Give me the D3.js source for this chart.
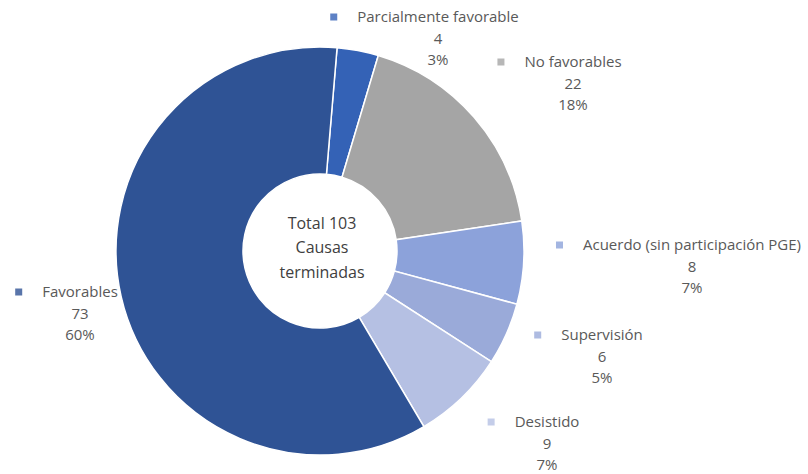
<!DOCTYPE html>
<html lang="es">
<head>
  <meta charset="utf-8">
  <title>causas terminadas</title>
  <style>
  * { margin:0; padding:0; }
  body { background:#fff; }
  svg text { font-family: "Open Sans", Lato, sans-serif; fill:#595959; }
  </style>
  <script src="https://d3js.org/d3.v7.min.js"></script>
</head>
<body>
  <div id="chart"></div>
  <script type="text/javascript">
  // data
  var categories = ["Parcialmente favorable","No favorables","Acuerdo (sin participación PGE)","Supervisión","Desistido","Favorables"];
  var values = [4,22,8,6,9,73];
  var percents = ["3%","18%","7%","5%","7%","60%"];
  var centerLines = ["Total 103","Causas","terminadas"];

  var colors = ["#3462b6","#a5a5a5","#8ca2da","#9aaad9","#b5c0e3","#2f5395"];
  // label placement (centre of name line, y of name line)
  var labelX = [438,573,692,602,547,80];
  var labelY = [17,62,245,335,422,292];

  var w = 808, h = 474;
  var svg = d3.select("#chart").append("svg")
    .attr("width", w).attr("height", h);

  var cx = 320, cy = 251, R = 204, r0 = 77;
  var start = 4.8*Math.PI/180;

  var pie = d3.pie().sort(null)
    .startAngle(start).endAngle(start + 2*Math.PI);
  var arc = d3.arc().innerRadius(r0).outerRadius(R);

  var g = svg.append("g").attr("transform","translate("+cx+","+cy+")");
  g.selectAll("path.slice")
    .data(pie(values))
    .enter().append("path")
    .attr("class","slice")
    .attr("d", arc)
    .attr("fill", function(d,i){ return colors[i]; })
    .attr("stroke","#fff")
    .attr("stroke-width",1.5);

  g.selectAll("text.center")
    .data(centerLines)
    .enter().append("text")
    .attr("class","center")
    .attr("text-anchor","middle")
    .attr("x",2)
    .attr("y",function(d,i){ return -28 + i*24.5; })
    .attr("dy","0.35em")
    .style("font-size","16px")
    .style("fill","#404040")
    .text(function(d){ return d; });

  var lh = 21.5;
  var labels = svg.selectAll("g.lab")
    .data(categories)
    .enter().append("g")
    .attr("class","lab")
    .attr("transform",function(d,i){ return "translate("+labelX[i]+","+labelY[i]+")"; });

  labels.each(function(d,i){
    var lg = d3.select(this);
    var t = lg.append("text")
      .attr("text-anchor","middle")
      .attr("dy","0.35em")
      .style("font-size","15px")
      .text(d);
    var tw = t.node().getComputedTextLength();
    lg.append("rect")
      .attr("x", -tw/2 - 27).attr("y",-3.5)
      .attr("width",7).attr("height",7)
      .attr("fill", colors[i])
      .attr("opacity",0.8);
    lg.append("text")
      .attr("text-anchor","middle")
      .attr("y", lh).attr("dy","0.35em")
      .style("font-size","15px")
      .text(values[i]);
    lg.append("text")
      .attr("text-anchor","middle")
      .attr("y", 2*lh).attr("dy","0.35em")
      .style("font-size","15px")
      .text(percents[i]);
  });
  </script>
</body>
</html>
